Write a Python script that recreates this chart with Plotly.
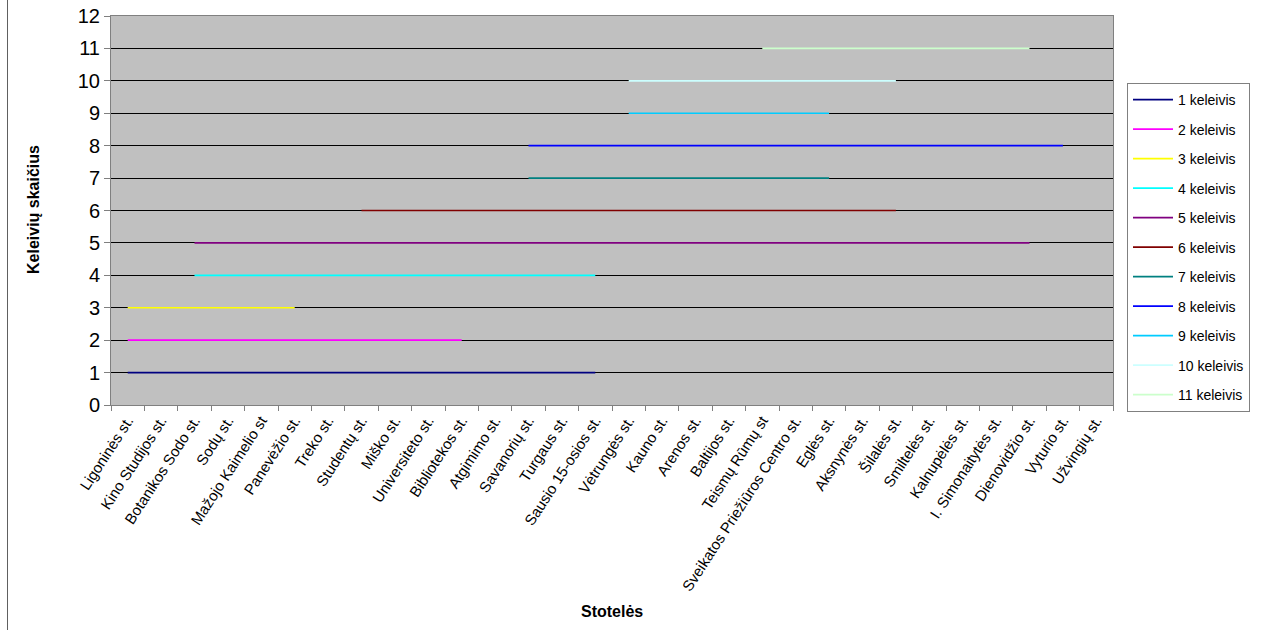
import plotly.graph_objects as go

stops = [
    "Ligoninės st.", "Kino Studijos st.", "Botanikos Sodo st.", "Sodų st.",
    "Mažojo Kaimelio st", "Panevėžio st.", "Treko st.", "Studentų st.",
    "Miško st.", "Universiteto st.", "Bibliotekos st.", "Atgimimo st.",
    "Savanorių st.", "Turgaus st.", "Sausio 15-osios st.", "Vėtrungės st.",
    "Kauno st.", "Arenos st.", "Baltijos st.", "Teismų Rūmų st",
    "Sveikatos Priežiūros Centro st.", "Eglės st.", "Aksnynės st.",
    "Šilalės st.", "Smiltelės st.", "Kalnupėlės st.", "I. Simonaitytės st.",
    "Dienovidžio st.", "Vyturio st.", "Užvingių st.",
]

N = None
k1 = [1]*15 + [N]*15
k2 = [2]*11 + [N]*19
k3 = [3]*6 + [N]*24
k4 = [N]*2 + [4]*13 + [N]*15
k5 = [N]*2 + [5]*26 + [N]*2
k6 = [N]*7 + [6]*17 + [N]*6
k7 = [N]*12 + [7]*10 + [N]*8
k8 = [N]*12 + [8]*17 + [N]*1
k9 = [N]*15 + [9]*7 + [N]*8
k10 = [N]*15 + [10]*9 + [N]*6
k11 = [N]*19 + [11]*9 + [N]*2

series_names = ["1 keleivis", "2 keleivis", "3 keleivis", "4 keleivis", "5 keleivis",
                "6 keleivis", "7 keleivis", "8 keleivis", "9 keleivis", "10 keleivis",
                "11 keleivis"]
series_values = [k1, k2, k3, k4, k5, k6, k7, k8, k9, k10, k11]
series_colors = ["#000080", "#FF00FF", "#FFFF00", "#00FFFF", "#800080", "#800000",
                 "#008080", "#0000FF", "#00CCFF", "#CCFFFF", "#CCFFCC"]

fig = go.Figure()
for name, vals, col in zip(series_names, series_values, series_colors):
    fig.add_trace(go.Scatter(
        x=stops, y=vals, name=name, mode="lines",
        line=dict(color=col, width=1.6),
        legendgroup=name,
    ))

W, H = 1264, 630
L, T = 111, 16
R = W - 1113
B = H - 405
pw = W - L - R
ph = H - T - B


def px(xr):
    return (xr - L) / pw


def py(yr):
    return (H - yr - B) / ph


fig.update_layout(
    width=W, height=H,
    margin=dict(l=L, r=R, t=T, b=B, autoexpand=False),
    paper_bgcolor="white",
    plot_bgcolor="#C0C0C0",
    font=dict(family="Arial, Liberation Sans, sans-serif", color="black"),
    showlegend=True,
    legend=dict(
        x=px(1127), y=py(83), xanchor="left", yanchor="top",
        bgcolor="white", bordercolor="#808080", borderwidth=1,
        font=dict(size=14, family="Arial, Liberation Sans, sans-serif"),
        tracegroupgap=8.3,
        itemwidth=40,
    ),
    xaxis=dict(
        type="category", range=[-0.5, 29.5],
        tickangle=-57, tickfont=dict(size=15),
        ticks="outside", ticklen=5, tickson="boundaries", tickcolor="#808080",
        showline=True, linecolor="#808080", linewidth=1, mirror=True,
        showgrid=False, automargin=False,
    ),
    yaxis=dict(
        range=[0, 12], dtick=1, tickfont=dict(size=20),
        ticks="outside", ticklen=6, tickcolor="#808080",
        showline=True, linecolor="#808080", linewidth=1, mirror=True,
        showgrid=True, gridcolor="black", gridwidth=1,
        zeroline=False, automargin=False,
    ),
    annotations=[
        dict(text="<b>Keleivių skaičius</b>", xref="paper", yref="paper",
             x=px(33), y=py(210), textangle=-90,
             showarrow=False, font=dict(size=16), xanchor="center", yanchor="middle"),
        dict(text="<b>Stotelės</b>", xref="paper", yref="paper",
             x=px(612), y=py(611),
             showarrow=False, font=dict(size=16), xanchor="center", yanchor="middle"),
    ],
    shapes=[
        dict(type="line", xref="paper", yref="paper",
             x0=px(7.5), x1=px(7.5), y0=py(0), y1=py(630),
             line=dict(color="#606060", width=1)),
    ],
)

fig.write_html("out.html",
               config={"displayModeBar": False},
               post_script="document.body.style.margin='0';document.body.style.overflow='hidden';")
